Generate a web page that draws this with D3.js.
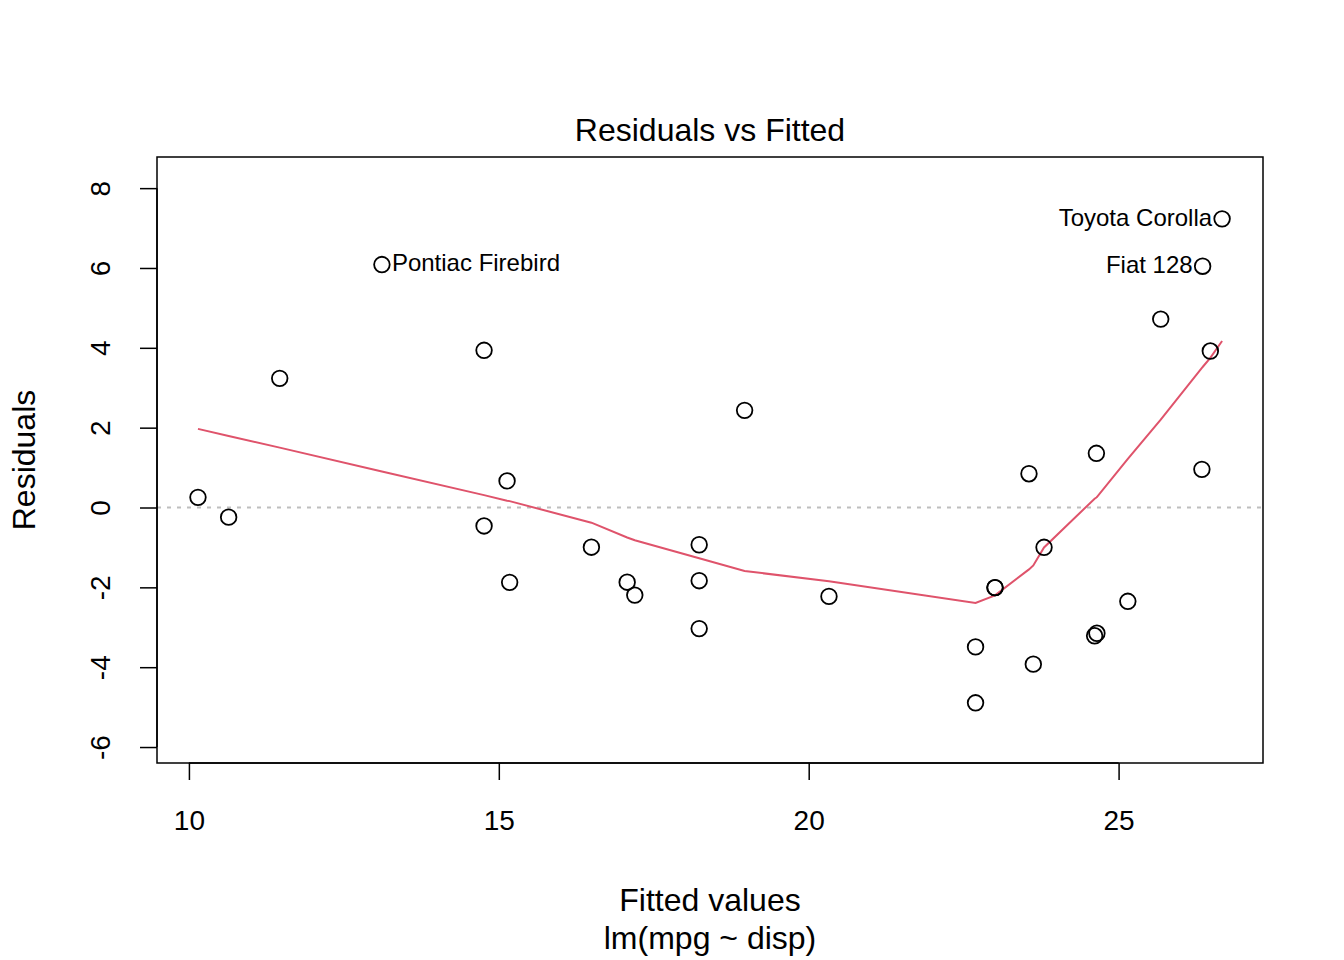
<!DOCTYPE html>
<html>
<head>
<meta charset="utf-8">
<script src="https://cdn.jsdelivr.net/npm/d3@7"></script>
<style>
  body { margin: 0; background: #fff; }
  text { font-family: Arial, "Liberation Sans", Helvetica, sans-serif; fill: #000; }
</style>
</head>
<body>
<svg id="root"></svg>
<script>
// lm(mpg ~ disp) on mtcars: fitted values and residuals
const cars = ["Mazda RX4", "Mazda RX4 Wag", "Datsun 710", "Hornet 4 Drive", "Hornet Sportabout",
  "Valiant", "Duster 360", "Merc 240D", "Merc 230", "Merc 280", "Merc 280C", "Merc 450SE",
  "Merc 450SL", "Merc 450SLC", "Cadillac Fleetwood", "Lincoln Continental", "Chrysler Imperial",
  "Fiat 128", "Honda Civic", "Toyota Corolla", "Toyota Corona", "Dodge Challenger", "AMC Javelin",
  "Camaro Z28", "Pontiac Firebird", "Fiat X1-9", "Porsche 914-2", "Lotus Europa", "Ford Pantera L",
  "Ferrari Dino", "Maserati Bora", "Volvo 142E"];
const fitted = [23.006, 23.006, 25.149, 18.966, 14.762, 20.327, 14.762, 23.554, 23.797, 22.692,
  22.692, 18.233, 18.233, 18.233, 10.146, 10.641, 11.465, 26.356, 26.480, 26.670, 24.650, 16.494,
  17.071, 15.175, 13.114, 26.344, 24.642, 25.680, 15.133, 23.624, 17.194, 24.613];
const residuals = [-2.006, -2.006, -2.349, 2.434, 3.938, -2.227, -0.462, 0.846, -0.997, -3.492,
  -4.892, -1.833, -0.933, -3.033, 0.254, -0.241, 3.235, 6.044, 3.920, 7.231, -3.150, -0.994,
  -1.871, -1.875, 6.086, 0.956, 1.358, 4.720, 0.667, -3.924, -2.194, -3.213];
const labelled = ["Toyota Corolla", "Pontiac Firebird", "Fiat 128"];

// smoother
const smoothX = [10.146, 10.641, 11.465, 13.114, 14.762, 15.133, 15.175, 16.494, 17.071, 17.194,
  18.233, 18.966, 20.327, 22.692, 23.006, 23.554, 23.624, 23.797, 24.613, 24.642, 24.650, 25.149,
  25.680, 26.344, 26.356, 26.480, 26.670];
const smoothY = [1.97, 1.79, 1.50, 0.90, 0.31, 0.17, 0.16, -0.38, -0.75, -0.82, -1.27, -1.59,
  -1.85, -2.39, -2.20, -1.55, -1.45, -1.00, 0.22, 0.25, 0.26, 1.22, 2.20, 3.50, 3.52, 3.75, 4.17];

const xTicks = [10, 15, 20, 25];
const yTicks = [-6, -4, -2, 0, 2, 4, 6, 8];

const width = 1344, height = 960;
const plot = { left: 157, right: 1263, top: 157, bottom: 763 };
const fontFam = "Arial, 'Liberation Sans', Helvetica, sans-serif";

const svg = d3.select("#root").attr("width", width).attr("height", height);

const x = d3.scaleLinear().domain([9.485, 27.33]).range([plot.left, plot.right]);
const y = d3.scaleLinear().domain([-6.40, 8.78]).range([plot.bottom, plot.top]);

// zero reference line
svg.append("line")
  .attr("x1", plot.left).attr("x2", plot.right)
  .attr("y1", y(0)).attr("y2", y(0))
  .attr("stroke", "#bebebe").attr("stroke-width", 2)
  .attr("stroke-dasharray", "4,6");

// smoother
svg.append("path")
  .datum(smoothX.map((d, i) => [d, smoothY[i]]))
  .attr("fill", "none")
  .attr("stroke", "#DF536B")
  .attr("stroke-width", 2)
  .attr("d", d3.line().x((d) => x(d[0])).y((d) => y(d[1])));

// points
const pts = cars.map((name, i) => ({ name, fx: fitted[i], r: residuals[i] }));
svg.selectAll(".pt")
  .data(pts)
  .enter()
  .append("circle")
  .attr("class", "pt")
  .attr("cx", (d) => x(d.fx))
  .attr("cy", (d) => y(d.r))
  .attr("r", 7.8)
  .attr("fill", "none")
  .attr("stroke", "#000")
  .attr("stroke-width", 1.8);

// labels for the largest residuals
svg.selectAll(".lab")
  .data(pts.filter((d) => labelled.includes(d.name)))
  .enter()
  .append("text")
  .attr("class", "lab")
  .attr("x", (d) => (x(d.fx) < 700 ? x(d.fx) + 10 : x(d.fx) - 10))
  .attr("y", (d) => y(d.r))
  .attr("dy", "0.28em")
  .attr("text-anchor", (d) => (x(d.fx) < 700 ? "start" : "end"))
  .style("font-size", "24px")
  .text((d) => d.name);

// box
svg.append("rect")
  .attr("x", plot.left).attr("y", plot.top)
  .attr("width", plot.right - plot.left).attr("height", plot.bottom - plot.top)
  .attr("fill", "none").attr("stroke", "#000").attr("stroke-width", 1.5);

// x axis
const xAxis = svg.append("g")
  .attr("transform", `translate(0, ${plot.bottom})`)
  .call(d3.axisBottom(x).tickValues(xTicks).tickSize(17).tickPadding(30).tickFormat(d3.format("d")));
xAxis.select(".domain")
  .attr("d", `M${x(xTicks[0])},0H${x(xTicks[xTicks.length - 1])}`)
  .attr("stroke-width", 1.5);
xAxis.selectAll(".tick line").attr("stroke-width", 1.5);
xAxis.selectAll("text").style("font-size", "28px").style("font-family", fontFam);

// y axis
const yAxis = svg.append("g")
  .attr("transform", `translate(${plot.left}, 0)`)
  .call(d3.axisLeft(y).tickValues(yTicks).tickSize(17).tickFormat(d3.format("d")));
yAxis.select(".domain")
  .attr("d", `M0,${y(yTicks[0])}V${y(yTicks[yTicks.length - 1])}`)
  .attr("stroke-width", 1.5);
yAxis.selectAll(".tick line").attr("stroke-width", 1.5);
yAxis.selectAll("text")
  .attr("x", 0).attr("dy", 0)
  .attr("transform", "translate(-57, 0) rotate(-90)")
  .attr("text-anchor", "middle")
  .attr("dominant-baseline", "central")
  .style("font-size", "28px")
  .style("font-family", fontFam)
  .text((d) => (d < 0 ? "-" + Math.abs(d) : d));

// titles
svg.append("text")
  .attr("x", (plot.left + plot.right) / 2).attr("y", 141)
  .attr("text-anchor", "middle")
  .style("font-size", "32px")
  .text("Residuals vs Fitted");

svg.append("text")
  .attr("x", (plot.left + plot.right) / 2).attr("y", 911)
  .attr("text-anchor", "middle")
  .style("font-size", "32px")
  .text("Fitted values");

svg.append("text")
  .attr("x", (plot.left + plot.right) / 2).attr("y", 949)
  .attr("text-anchor", "middle")
  .style("font-size", "32px")
  .text("lm(mpg ~ disp)");

svg.append("text")
  .attr("transform", `translate(35, ${(plot.top + plot.bottom) / 2}) rotate(-90)`)
  .attr("text-anchor", "middle")
  .style("font-size", "32px")
  .text("Residuals");
</script>
</body>
</html>
